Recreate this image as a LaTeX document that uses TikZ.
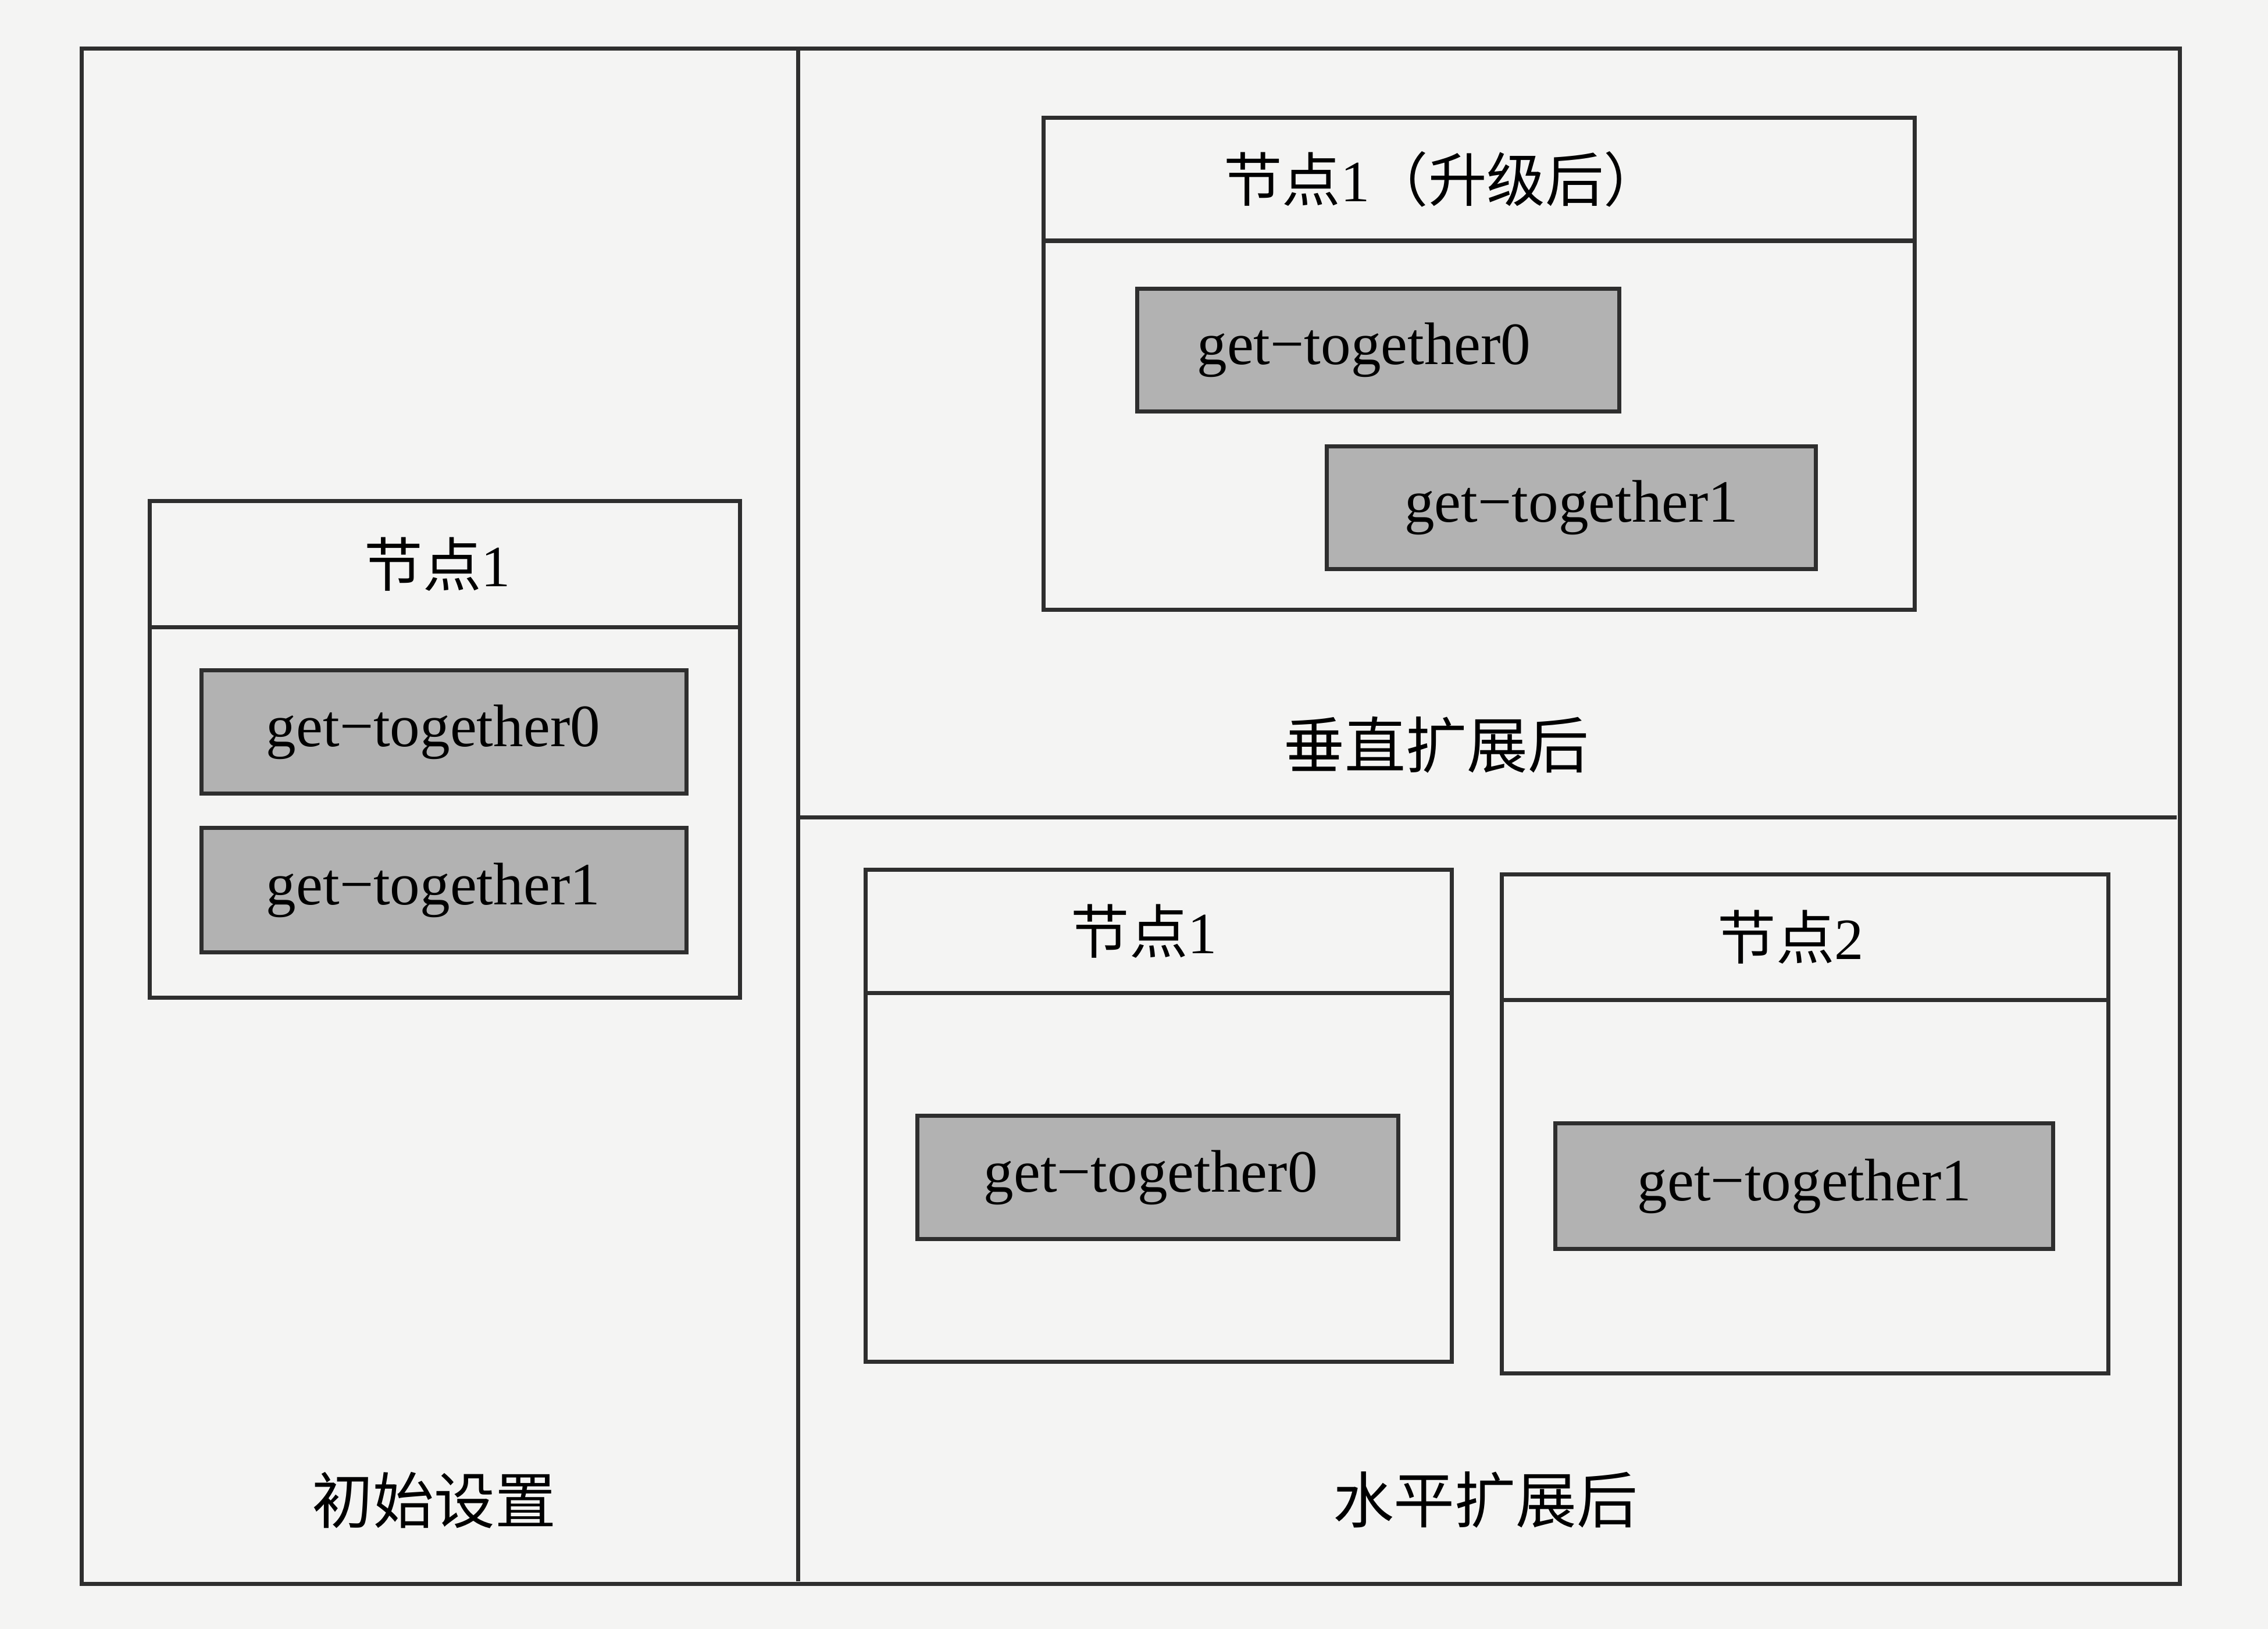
\documentclass[tikz,border=0pt]{standalone}
\usepackage{fontspec}
\setmainfont{Liberation Serif}
\newfontfamily\cjk{Noto Sans CJK SC}
\definecolor{bg}{HTML}{F4F4F3}
\definecolor{ln}{HTML}{2E2E2E}
\definecolor{gt}{HTML}{B2B2B2}
\begin{document}
\begin{tikzpicture}[x=0.01cm,y=-0.01cm,
  frame/.style={draw=ln,line width=0.8pt,inner sep=0pt,anchor=north west},
  hdr/.style={frame,font=\fontsize{11.5}{13}\selectfont},
  gbox/.style={frame,fill=gt,font=\fontsize{11.8}{14}\selectfont},
  captext/.style={font=\cjk\fontsize{12}{14}\selectfont,text=black}]
\fill[bg] (0,0) rectangle (1568,1126);
\useasboundingbox (0,0) rectangle (1568,1126);
% outer frame
\node[frame,minimum width=14.50cm,minimum height=10.61cm] (outer) at (55,32) {};
\coordinate (vtop) at (552,32);
\coordinate (vbot) at (552,1093);
\coordinate (hl) at (552,565);
\coordinate (hr) at (1505,565);
\draw[ln,line width=0.8pt] (vtop) -- (vbot);
\draw[ln,line width=0.8pt] (hl) -- (hr);
% left: initial
\node[hdr,minimum width=4.08cm,minimum height=0.87cm] (lh) at (102,345) {\hspace*{-0.1cm}{\cjk 节点}1};
\node[frame,minimum width=4.08cm,minimum height=2.56cm] (lb) at (102,432) {};
\node[gbox,minimum width=3.35cm,minimum height=0.85cm] (lg0) at (138,462) {\hspace*{-0.15cm}get−together0};
\node[gbox,minimum width=3.35cm,minimum height=0.86cm] (lg1) at (138,571) {\hspace*{-0.15cm}get−together1};
\node[captext] (lcap) at (300,1037) {初始设置};
% top right: vertical
\node[hdr,minimum width=6.02cm,minimum height=0.85cm] (th) at (720,80) {\hspace*{-0.5cm}{\cjk 节点}1{\cjk （升级后）}};
\node[frame,minimum width=6.02cm,minimum height=2.55cm] (tb) at (720,165) {};
\node[gbox,minimum width=3.33cm,minimum height=0.85cm] (tg0) at (785,198) {\hspace*{-0.2cm}get−together0};
\node[gbox,minimum width=3.38cm,minimum height=0.85cm] (tg1) at (916,307) {get−together1};
\node[captext] (tcap) at (993,515) {垂直扩展后};
% bottom right: horizontal
\node[hdr,minimum width=4.05cm,minimum height=0.85cm] (bh1) at (597,600) {\hspace*{-0.2cm}{\cjk 节点}1};
\node[frame,minimum width=4.05cm,minimum height=2.55cm] (bb1) at (597,685) {};
\node[gbox,minimum width=3.32cm,minimum height=0.85cm] (bg0) at (633,770) {\hspace*{-0.1cm}get−together0};
\node[hdr,minimum width=4.19cm,minimum height=0.87cm] (bh2) at (1037,603) {\hspace*{-0.2cm}{\cjk 节点}2};
\node[frame,minimum width=4.19cm,minimum height=2.58cm] (bb2) at (1037,690) {};
\node[gbox,minimum width=3.44cm,minimum height=0.87cm] (bg1) at (1074,775) {get−together1};
\node[captext] (bcap) at (1027,1037) {水平扩展后};
\end{tikzpicture}
\end{document}
